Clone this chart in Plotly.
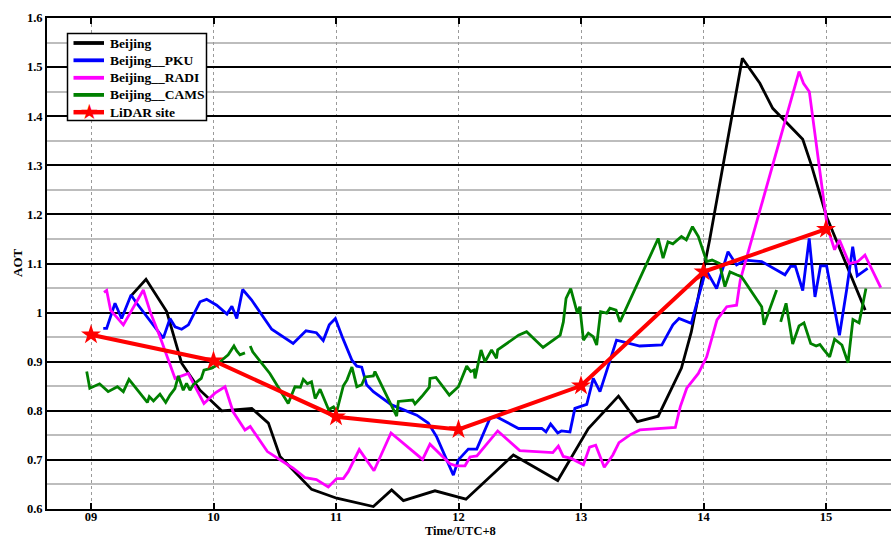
import plotly.graph_objects as go

# Hourly time axis (UTC+8), AOT values per station
hour_ticks = [9, 10, 11, 12, 13, 14, 15]
hour_labels = ["09", "10", "11", "12", "13", "14", "15"]
aot_ticks = [0.6, 0.7, 0.8, 0.9, 1.0, 1.1, 1.2, 1.3, 1.4, 1.5, 1.6]
aot_labels = ["0.6", "0.7", "0.8", "0.9", "1", "1.1", "1.2", "1.3", "1.4", "1.5", "1.6"]

beijing_t = [9.327, 9.449, 9.618, 9.740, 9.890, 10.067, 10.312, 10.448, 10.543, 10.801,
             11.006, 11.196, 11.305, 11.454, 11.55, 11.808, 12.061, 12.448, 12.81, 13.06,
             13.306, 13.46, 13.63, 13.82, 13.90, 14.05, 14.317, 14.46, 14.565, 14.81,
             14.88, 15.005, 15.32]
beijing_aot = [1.034, 1.068, 1.002, 0.897, 0.842, 0.800, 0.805, 0.775, 0.707, 0.640,
               0.622, 0.612, 0.605, 0.639, 0.617, 0.637, 0.620, 0.710, 0.658, 0.764,
               0.830, 0.778, 0.789, 0.887, 0.960, 1.148, 1.518, 1.467, 1.416, 1.353,
               1.301, 1.195, 1.005]

pku_t = [9.10, 9.128, 9.196, 9.25, 9.327, 9.373, 9.59, 9.645, 9.686, 9.74, 9.795, 9.89,
         9.944, 10.026, 10.11, 10.15, 10.19, 10.238, 10.31, 10.475, 10.65, 10.755, 10.84,
         10.896, 10.945, 10.995, 11.055, 11.13, 11.17, 11.21, 11.25, 11.305, 11.454, 11.66,
         11.753, 11.822, 11.958, 11.999, 12.08, 12.149, 12.257, 12.31, 12.49, 12.68, 12.714,
         12.752, 12.81, 12.84, 12.91, 12.95, 13.047, 13.10, 13.155, 13.29, 13.48, 13.66,
         13.75, 13.80, 13.90, 14.02, 14.107, 14.20, 14.27, 14.34, 14.475, 14.665, 14.71,
         14.75, 14.81, 14.863, 14.91, 14.955, 15.005, 15.11, 15.17, 15.218, 15.255, 15.34]
pku_aot = [0.968, 0.968, 1.019, 0.988, 1.036, 1.019, 0.948, 0.988, 0.971, 0.966, 0.975, 1.022,
           1.027, 1.015, 0.997, 1.013, 0.988, 1.047, 1.026, 0.966, 0.937, 0.963, 0.959,
           0.943, 0.975, 0.988, 0.948, 0.903, 0.891, 0.889, 0.853, 0.839, 0.812, 0.791,
           0.775, 0.747, 0.669, 0.700, 0.722, 0.722, 0.785, 0.788, 0.764, 0.764, 0.757,
           0.773, 0.755, 0.759, 0.757, 0.805, 0.813, 0.866, 0.839, 0.944, 0.932, 0.934,
           0.975, 0.988, 0.978, 1.087, 1.049, 1.124, 1.097, 1.107, 1.104, 1.077, 1.094,
           1.094, 1.045, 1.151, 1.032, 1.095, 1.095, 0.954, 1.049, 1.134, 1.075, 1.090]

radi_t = [9.106, 9.128, 9.16, 9.264, 9.427, 9.487, 9.563, 9.686, 9.794, 9.922, 10.012, 10.094,
          10.16, 10.257, 10.30, 10.44, 10.65, 10.747, 10.84, 10.937, 11.005, 11.06, 11.10,
          11.19, 11.31, 11.449, 11.707, 11.767, 11.93, 11.98, 12.053, 12.094, 12.15, 12.32,
          12.50, 12.77, 12.815, 12.855, 12.92, 13.02, 13.07, 13.12, 13.19, 13.26, 13.31,
          13.40, 13.48, 13.77, 13.81, 13.863, 13.958, 14.026, 14.11, 14.19, 14.27, 14.30,
          14.78, 14.816, 14.864, 15.01, 15.07, 15.11, 15.19, 15.26, 15.318, 15.447]
radi_aot = [1.041, 1.045, 1.005, 0.975, 1.046, 0.999, 0.951, 0.866, 0.876, 0.815, 0.836, 0.849,
            0.798, 0.761, 0.768, 0.717, 0.683, 0.664, 0.660, 0.645, 0.662, 0.662, 0.676,
            0.721, 0.678, 0.755, 0.701, 0.732, 0.692, 0.688, 0.688, 0.706, 0.708, 0.759,
            0.719, 0.715, 0.728, 0.707, 0.703, 0.690, 0.726, 0.730, 0.685, 0.710, 0.735,
            0.751, 0.761, 0.766, 0.808, 0.846, 0.876, 0.910, 0.985, 1.012, 1.015, 1.066,
            1.491, 1.467, 1.450, 1.175, 1.128, 1.148, 1.100, 1.104, 1.117, 1.051]

# None marks the gaps in the CAMS record
cams_t = [8.965, 8.99, 9.07, 9.14, 9.215, 9.264, 9.31, 9.40, 9.46, 9.476, 9.51, 9.563, 9.61,
          9.645, 9.685, 9.713, 9.753, 9.78, 9.808, 9.835, 9.90, 9.922, 9.985, 10.03, 10.067,
          10.12, 10.167, 10.19, 10.216, 10.257, None,
          10.30, 10.32, 10.46, 10.556, 10.61, 10.665, 10.71, 10.733, 10.766, 10.80, 10.83,
          10.87, 10.94, 10.98, 11.005, 11.06, 11.09, 11.13, 11.17, 11.21, 11.237, 11.305,
          11.318, 11.495, 11.509, 11.626, 11.645, 11.70, 11.762, 11.767, 11.816, 11.925,
          11.999, 12.067, 12.10, 12.127, 12.135, 12.184, 12.216, 12.27, 12.31, 12.32, 12.49,
          12.556, 12.69, 12.83, 12.856, 12.878, 12.916, 12.97, 12.99, 13.02, 13.06, 13.10,
          13.128, 13.16, 13.21, 13.236, 13.286, 13.318, 13.63, 13.67, 13.71, 13.75, 13.82,
          13.86, 13.91, 13.958, 14.026, 14.07, 14.13, 14.175, 14.216, 14.27, 14.31, 14.475,
          14.494, 14.597, None,
          14.63, 14.674, 14.728, 14.78, 14.82, 14.875, 14.92, 14.95, 14.98, 15.03, 15.07,
          15.13, 15.18, 15.22, 15.27, 15.326]
cams_aot = [0.880, 0.846, 0.855, 0.839, 0.849, 0.839, 0.864, 0.836, 0.817, 0.829, 0.820, 0.834,
            0.817, 0.832, 0.845, 0.871, 0.842, 0.856, 0.842, 0.853, 0.866, 0.883, 0.887,
            0.893, 0.903, 0.914, 0.932, 0.922, 0.914, 0.918, None,
            0.932, 0.920, 0.876, 0.836, 0.815, 0.849, 0.848, 0.864, 0.855, 0.859, 0.825,
            0.844, 0.802, 0.808, 0.798, 0.851, 0.863, 0.889, 0.849, 0.853, 0.869, 0.871,
            0.880, 0.789, 0.819, 0.822, 0.814, 0.829, 0.848, 0.866, 0.868, 0.832, 0.849,
            0.891, 0.880, 0.883, 0.866, 0.924, 0.900, 0.924, 0.907, 0.924, 0.954, 0.961,
            0.929, 0.954, 0.981, 1.029, 1.049, 0.999, 1.012, 0.944, 0.958, 0.951, 0.934,
            1.002, 0.999, 1.009, 1.005, 0.981, 1.151, 1.111, 1.144, 1.140, 1.155, 1.148,
            1.175, 1.155, 1.104, 1.107, 1.100, 1.053, 1.083, 1.077, 1.073, 1.012, 0.975,
            1.046, None,
            0.981, 1.019, 0.936, 0.973, 0.979, 0.937, 0.932, 0.935, 0.925, 0.910, 0.946,
            0.934, 0.898, 0.986, 0.979, 1.049]

lidar_t = [9, 10, 11, 12, 13, 14, 15]
lidar_aot = [0.955, 0.902, 0.788, 0.762, 0.851, 1.083, 1.170]

series_names = ["Beijing", "Beijing__PKU", "Beijing__RADI", "Beijing__CAMS", "LiDAR site"]
series_colors = ["#000000", "#0000FF", "#FF00FF", "#008000", "#FF0000"]

FONT = "Liberation Serif"
W, H = 891, 539
ML, MR, MT, MB = 47, 0, 18, 30
PW, PH = W - ML - MR, H - MT - MB


def px(xp):
    """Page x in pixels -> paper fraction."""
    return (xp - ML) / PW


def py(yp):
    """Page y in pixels (from top) -> paper fraction."""
    return (H - MB - yp) / PH


def bold(labels):
    return ["<b>%s</b>" % s for s in labels]


fig = go.Figure()
line_series = [(beijing_t, beijing_aot), (pku_t, pku_aot), (radi_t, radi_aot), (cams_t, cams_aot)]
for (tx, ty), name, color in zip(line_series, series_names[:4], series_colors[:4]):
    fig.add_trace(go.Scatter(x=tx, y=ty, mode="lines", name=name, connectgaps=False,
                             line=dict(color=color, width=2.8)))
fig.add_trace(go.Scatter(x=lidar_t, y=lidar_aot, mode="lines+markers", name=series_names[4],
                         line=dict(color=series_colors[4], width=4),
                         marker=dict(symbol="star", size=15, color=series_colors[4],
                                     line=dict(width=0))))

# Boxed legend in the upper-left corner, drawn with shapes and text
shapes = [dict(type="rect", xref="paper", yref="paper",
               x0=px(67.5), x1=px(206.5), y0=py(120.5), y1=py(33.5),
               line=dict(color="black", width=1.5), fillcolor="white", layer="above")]
annotations = []
row_y = [43, 60.3, 77.8, 94.9, 112.2]
for i, (name, color) in enumerate(zip(series_names, series_colors)):
    shapes.append(dict(type="line", xref="paper", yref="paper",
                       x0=px(73.5), x1=px(104), y0=py(row_y[i]), y1=py(row_y[i]),
                       line=dict(color=color, width=4.5 if i == 4 else 3.8), layer="above"))
    annotations.append(dict(text="<b>%s</b>" % name, xref="paper", yref="paper",
                            x=px(107.5), y=py(row_y[i]), xanchor="left", yanchor="middle",
                            showarrow=False, font=dict(family=FONT, size=13.5, color="black")))
annotations.append(dict(text="\u2605", xref="paper", yref="paper", x=px(89), y=py(row_y[4] - 0.5),
                        xanchor="center", yanchor="middle", showarrow=False,
                        font=dict(family="DejaVu Sans", size=21, color=series_colors[4])))

annotations.append(dict(text="<b>Time/UTC+8</b>", xref="paper", yref="paper",
                        x=px(460), y=py(539), xanchor="center", yanchor="bottom",
                        borderpad=0, showarrow=False,
                        font=dict(family=FONT, size=12.5, color="black")))
annotations.append(dict(text="<b>AOT</b>", xref="paper", yref="paper", textangle=-90,
                        x=px(17), y=py(263), xanchor="center", yanchor="middle",
                        showarrow=False, font=dict(family=FONT, size=13, color="black")))

fig.update_layout(
    width=W, height=H,
    margin=dict(l=ML, r=MR, t=MT, b=MB),
    paper_bgcolor="white", plot_bgcolor="white",
    font=dict(family=FONT, size=13, color="black"),
    showlegend=False,
    shapes=shapes,
    annotations=annotations,
)

fig.update_xaxes(
    range=[9 - 44 / 122.5, 9 - 44 / 122.5 + PW / 122.5],
    tickvals=hour_ticks, ticktext=bold(hour_labels),
    tickfont=dict(family=FONT, size=12.5, color="black"),
    ticklabelstandoff=-5,
    ticks="inside", ticklen=6, tickwidth=1.5, tickcolor="black",
    showline=True, linecolor="black", linewidth=2, mirror="ticks",
    showgrid=True, gridcolor="#9a9a9a", gridwidth=1, griddash="dot",
    zeroline=False,
)
fig.update_yaxes(
    range=[0.6, 1.6],
    tickvals=aot_ticks, ticktext=bold(aot_labels),
    tickfont=dict(family=FONT, size=12.5, color="black"),
    ticks="", showline=True, linecolor="black", linewidth=2,
    showgrid=True, gridcolor="black", gridwidth=2,
    minor=dict(dtick=0.05, tick0=0.6, showgrid=True, gridcolor="#bdbdbd", gridwidth=1.5),
    zeroline=False,
)

fig.write_html("out.html")
